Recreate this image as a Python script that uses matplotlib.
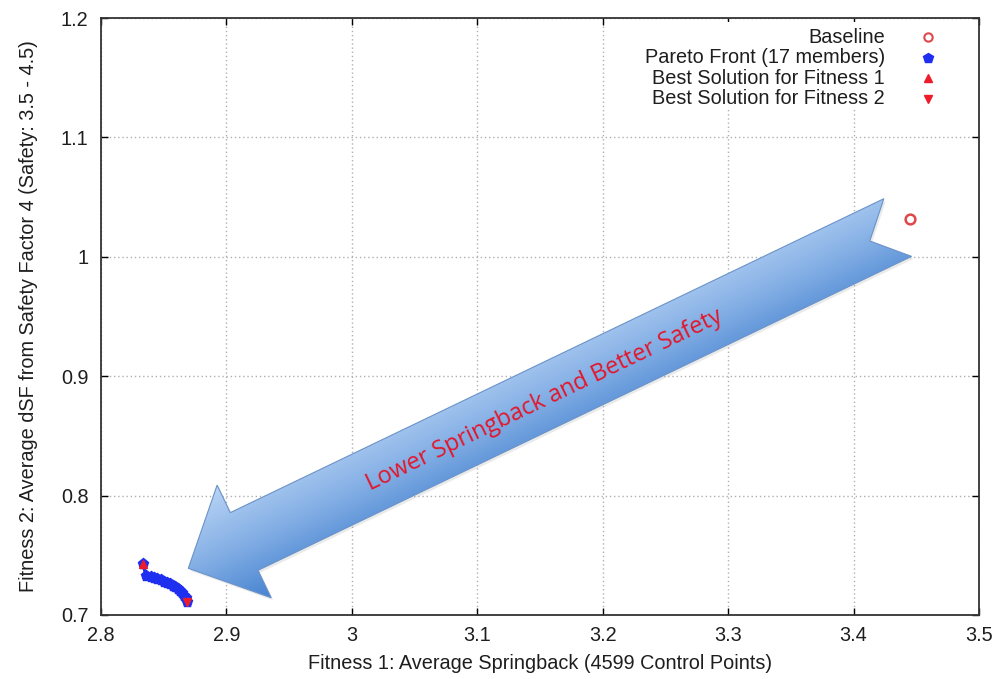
import numpy as np
import matplotlib.pyplot as plt
from matplotlib.patches import Polygon, Rectangle
from matplotlib.transforms import IdentityTransform
from matplotlib.colors import LinearSegmentedColormap

# baseline design
baseline_x = [3.4446]
baseline_y = [1.0314]

# non-dominated solutions, ordered by fitness 1
pareto_x = [2.8337, 2.8356, 2.8395, 2.8425, 2.8450, 2.8478, 2.8503, 2.8527, 2.8550,
            2.8572, 2.8592, 2.8612, 2.8630, 2.8647, 2.8660, 2.8675, 2.8688]
pareto_y = [0.7427, 0.7327, 0.7318, 0.7308, 0.7300, 0.7290, 0.7280, 0.7268, 0.7258,
            0.7245, 0.7232, 0.7218, 0.7200, 0.7182, 0.7162, 0.7140, 0.7111]

legend_labels = ["Baseline", "Pareto Front (17 members)",
                 "Best Solution for Fitness 1", "Best Solution for Fitness 2"]

x_ticks = [2.8, 2.9, 3.0, 3.1, 3.2, 3.3, 3.4, 3.5]
x_tick_labels = ["2.8", "2.9", "3", "3.1", "3.2", "3.3", "3.4", "3.5"]
y_ticks = [0.7, 0.8, 0.9, 1.0, 1.1, 1.2]
y_tick_labels = ["0.7", "0.8", "0.9", "1", "1.1", "1.2"]

# direction arrow (tail centre -> tip), data units
arrow_tail = (3.4352, 1.0245)
arrow_tip = (2.8696, 0.7391)
arrow_text = "Lower Springback and Better Safety"

FONT = "Liberation Sans"
FS = 14.3
TXT = "#1e1e1e"

plt.rcParams["font.family"] = [FONT, "DejaVu Sans"]

fig = plt.figure(figsize=(9.97, 6.79), dpi=100)
ax = fig.add_axes([101 / 997, 64 / 679, 878 / 997, 597 / 679])
ax.set_xlim(2.8, 3.5)
ax.set_ylim(0.7, 1.2)

ax.set_xticks(x_ticks)
ax.set_xticklabels(x_tick_labels)
ax.set_yticks(y_ticks)
ax.set_yticklabels(y_tick_labels)
ax.tick_params(direction="in", length=5, width=1.0, top=True, right=True,
               labelsize=FS, labelcolor=TXT)
ax.tick_params(axis="x", pad=8)
ax.tick_params(axis="y", pad=9)
for s in ax.spines.values():
    s.set_linewidth(1.3)
    s.set_color("#333333")

ax.set_axisbelow(True)
ax.grid(True, color="#b0b0b0", linestyle=(0, (1, 2)), linewidth=1.0)

ax.set_xlabel("Fitness 1: Average Springback (4599 Control Points)", fontsize=FS, color=TXT)
ax.set_ylabel("Fitness 2: Average dSF from Safety Factor 4 (Safety: 3.5 - 4.5)", fontsize=FS, color=TXT)
ax.xaxis.set_label_coords(0.5, -0.066)
ax.yaxis.set_label_coords(-0.072, 0.5)

# series
ax.plot(baseline_x, baseline_y, linestyle="none", marker="o", ms=7, mfc="none",
        mec="#e0474c", mew=1.8, zorder=4)
ax.plot(pareto_x, pareto_y, color="#1f2ff0", lw=2.2, marker="p", ms=8,
        mfc="#1f2ff0", mec="#1f2ff0", zorder=4)
ax.plot(pareto_x[:1], pareto_y[:1], linestyle="none", marker="^", ms=6,
        color="#ee1c2a", zorder=5)
ax.plot(pareto_x[-1:], pareto_y[-1:], linestyle="none", marker="v", ms=6,
        color="#ee1c2a", zorder=5)

# key box (gnuplot style: right-aligned labels, sample on the right)
ax.add_patch(Rectangle((0.612, 0.848), 0.383, 0.146, transform=ax.transAxes,
                       facecolor="white", edgecolor="none", zorder=1))
key_styles = [
    dict(marker="o", ms=6.0, mfc="none", mec="#e0474c", mew=1.5),
    dict(marker="p", ms=7.0, mfc="#1f2ff0", mec="#1f2ff0"),
    dict(marker="^", ms=5.5, mfc="#ee1c2a", mec="#ee1c2a"),
    dict(marker="v", ms=5.5, mfc="#ee1c2a", mec="#ee1c2a"),
]
for i, (lab, st) in enumerate(zip(legend_labels, key_styles)):
    yy = 0.968 - i * 0.0343
    ax.text(0.893, yy, lab, transform=ax.transAxes, ha="right", va="center",
            fontsize=FS, color=TXT, zorder=6)
    ax.plot([0.942], [yy], transform=ax.transAxes, linestyle="none",
            clip_on=False, zorder=6, **st)


def block_arrow(ax, tail, tip, shaft_hw=32.0, head_hw=62.5, head_len=62.0, notch=31.0):
    p_tail = ax.transData.transform(tail)
    p_tip = ax.transData.transform(tip)
    d = p_tail - p_tip
    length = np.hypot(d[0], d[1])
    u = d / length
    up = np.array([-u[1], u[0]])
    local = [(0, 0), (head_len, head_hw), (head_len, shaft_hw), (length, shaft_hw),
             (length - notch, 0), (length, -shaft_hw), (head_len, -shaft_hw),
             (head_len, -head_hw)]
    pts = np.array([p_tip + a * u + b * up for a, b in local])

    # soft drop shadow
    shadow = Polygon(pts + np.array([2.0, -2.5]), closed=True, transform=IdentityTransform(),
                     facecolor="#909090", edgecolor="none", alpha=0.18, zorder=2.4)
    ax.add_patch(shadow)

    outline = Polygon(pts, closed=True, transform=IdentityTransform(),
                      facecolor="none", edgecolor="#6a93c9", linewidth=0.8, zorder=3.2)
    ax.add_patch(outline)

    # gradient across the arrow, light on the upper side
    x0, y0 = pts.min(axis=0) - 2
    x1, y1 = pts.max(axis=0) + 2
    xs = np.arange(int(x0), int(x1) + 1) + 0.5
    ys = np.arange(int(y0), int(y1) + 1) + 0.5
    gx, gy = np.meshgrid(xs, ys)
    b = (gx - p_tip[0]) * up[0] + (gy - p_tip[1]) * up[1]
    t = np.clip((b + head_hw) / (2 * head_hw), 0, 1)
    cmap = LinearSegmentedColormap.from_list("arrowfill", ["#4683d0", "#84afe5", "#b9d4f5"])
    img = ax.imshow(cmap(t), extent=(xs[0] - 0.5, xs[-1] + 0.5, ys[0] - 0.5, ys[-1] + 0.5),
                    origin="lower", transform=IdentityTransform(), aspect="auto",
                    interpolation="bilinear", zorder=3)
    img.set_clip_path(outline)
    return p_tip, u, up


p_tip, u, up = block_arrow(ax, arrow_tail, arrow_tip)
ang = np.degrees(np.arctan2(u[1], u[0]))
c = p_tip + 394 * u - 3 * up
ax.text(c[0], c[1], arrow_text, transform=IdentityTransform(), rotation=ang,
        rotation_mode="anchor", ha="center", va="center", fontsize=17,
        family=["Open Sans", "DejaVu Sans"], color="#e3162b", zorder=7)

ax.set_xlim(2.8, 3.5)
ax.set_ylim(0.7, 1.2)

fig.savefig("out.png", dpi=100)
